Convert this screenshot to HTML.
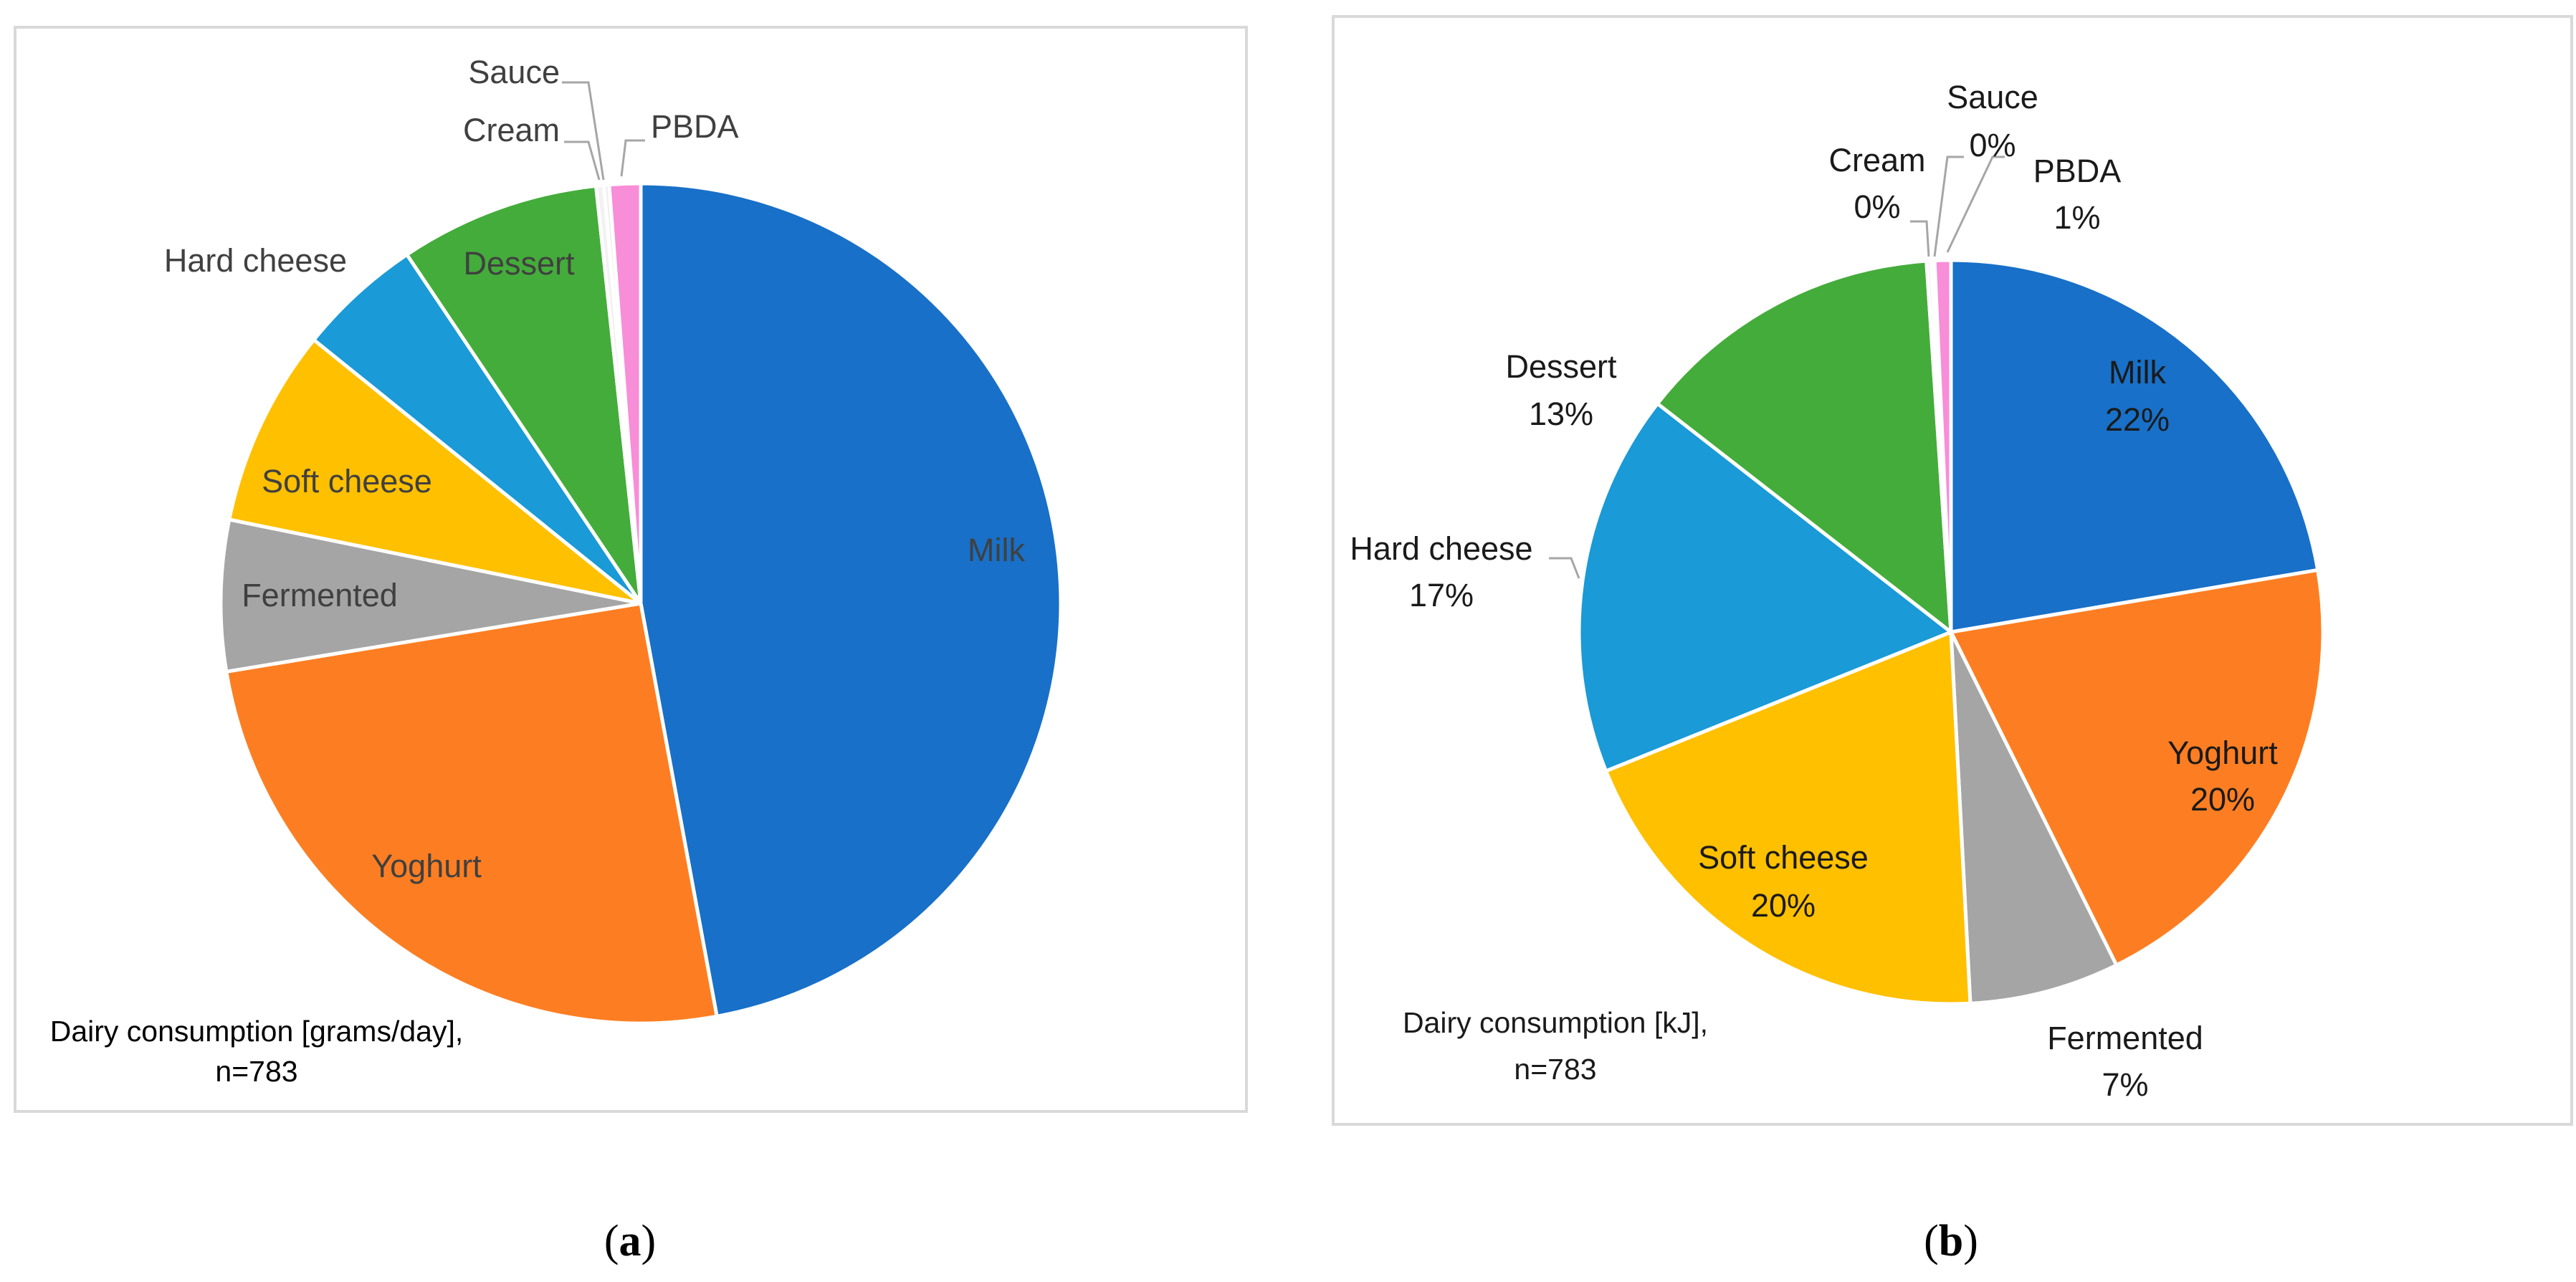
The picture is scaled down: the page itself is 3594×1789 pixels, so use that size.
<!DOCTYPE html>
<html><head><meta charset="utf-8"><style>
html,body{margin:0;padding:0;background:#fff;}
svg{display:block;}
text{font-family:"Liberation Sans",sans-serif;}
</style></head><body>
<svg id="chart" width="3594" height="1789" viewBox="0 0 3594 1789" xmlns="http://www.w3.org/2000/svg">
<rect x="21" y="38" width="1718" height="1513" fill="#fff" stroke="#d9d9d9" stroke-width="4"/>
<rect x="1860" y="23" width="1728" height="1546" fill="#fff" stroke="#d9d9d9" stroke-width="4"/>
<g id="pieA"></g>
<g id="pieB"></g>
<g fill="none" stroke="#a6a6a6" stroke-width="3">
<polyline points="784,115 821,115 842,251"/>
<polyline points="787,198 821,198 836,251"/>
<polyline points="900,196 873,196 867,246"/>
<polyline points="2665,309 2688,309 2691,358"/>
<polyline points="2740,219 2717,219 2699,358"/>
<polyline points="2797,219 2780,219 2717,352"/>
<polyline points="2161,779 2192,779 2203,807"/>
</g>
<g font-size="45" fill="#404040">
<text x="781" y="116" text-anchor="end">Sauce</text>
<text x="781" y="197" text-anchor="end">Cream</text>
<text x="908" y="192">PBDA</text>
<text x="484" y="379" text-anchor="end">Hard cheese</text>
<text x="724" y="383" text-anchor="middle">Dessert</text>
<text x="484" y="687" text-anchor="middle">Soft cheese</text>
<text x="446" y="846" text-anchor="middle">Fermented</text>
<text x="595" y="1224" text-anchor="middle">Yoghurt</text>
<text x="1390" y="783" text-anchor="middle">Milk</text>
<text x="358" y="1453" text-anchor="middle" font-size="41" fill="#000">Dairy consumption [grams/day],</text>
<text x="358" y="1509" text-anchor="middle" font-size="41" fill="#000">n=783</text>
</g>
<g font-size="45" fill="#1a1a1a" text-anchor="middle">
<text x="2780" y="151">Sauce</text>
<text x="2780" y="218">0%</text>
<text x="2619" y="239">Cream</text>
<text x="2619" y="304">0%</text>
<text x="2898" y="254">PBDA</text>
<text x="2898" y="319">1%</text>
<text x="2982" y="535">Milk</text>
<text x="2982" y="601">22%</text>
<text x="2178" y="527">Dessert</text>
<text x="2178" y="593">13%</text>
<text x="2011" y="781">Hard cheese</text>
<text x="2011" y="846">17%</text>
<text x="3101" y="1066">Yoghurt</text>
<text x="3101" y="1131">20%</text>
<text x="2488" y="1212">Soft cheese</text>
<text x="2488" y="1279">20%</text>
<text x="2965" y="1464">Fermented</text>
<text x="2965" y="1529">7%</text>
<text x="2170" y="1441" font-size="41">Dairy consumption [kJ],</text>
<text x="2170" y="1506" font-size="41">n=783</text>
</g>
<text x="879" y="1752" text-anchor="middle" font-size="62" style="font-family:'Liberation Serif',serif">(<tspan font-weight="bold">a</tspan>)</text>
<text x="2722" y="1752" text-anchor="middle" font-size="62" style="font-family:'Liberation Serif',serif">(<tspan font-weight="bold">b</tspan>)</text>
</svg>
<script>
const categories = ["Milk","Yoghurt","Fermented","Soft cheese","Hard cheese","Dessert","Cream","Sauce","PBDA"];
const gramsValues = [47.1,25.3,5.8,7.6,4.8,7.7,0.3,0.2,1.2];
const kjValues = [22.3,20.3,6.5,19.7,16.6,13.4,0.2,0.15,0.7];
const colors = ["#1870C8","#FD7E22","#A5A5A5","#FFC000","#1A9AD6","#44AC3A","#F2F2F2","#EDEDED","#F88DD8"];
const NS = "http://www.w3.org/2000/svg";
function drawPie(gid, values, cx, cy, r, prefix){
  const g = document.getElementById(gid);
  const total = values.reduce((a,b)=>a+b,0);
  let a0 = 0;
  values.forEach((v,i)=>{
    const a1 = a0 + v/total*2*Math.PI;
    const x0 = cx + r*Math.sin(a0), y0 = cy - r*Math.cos(a0);
    const x1 = cx + r*Math.sin(a1), y1 = cy - r*Math.cos(a1);
    const large = (a1-a0) > Math.PI ? 1 : 0;
    const p = document.createElementNS(NS,"path");
    p.setAttribute("d",`M${cx},${cy} L${x0},${y0} A${r},${r} 0 ${large} 1 ${x1},${y1} Z`);
    p.setAttribute("fill",colors[i]);
    p.setAttribute("stroke","#fff");
    p.setAttribute("stroke-width","5");
    p.setAttribute("stroke-linejoin","round");
    
    
    g.appendChild(p);
    a0 = a1;
  });
}
drawPie("pieA", gramsValues, 894, 842, 586, "pie-a");
drawPie("pieB", kjValues, 2722, 882, 519, "pie-b");
</script>
</body></html>
